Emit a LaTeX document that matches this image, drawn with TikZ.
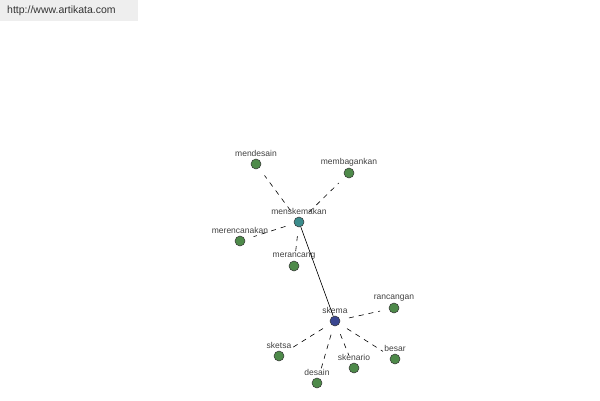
\documentclass[tikz,border=0pt]{standalone}
\usepackage{fontspec}
\setmainfont{Liberation Sans}
\usepackage{xcolor}
\usetikzlibrary{calc}
\definecolor{leafgreen}{HTML}{4E8A4A}
\definecolor{hubteal}{HTML}{3C8C8C}
\definecolor{rootnavy}{HTML}{3A4690}
\definecolor{banner}{HTML}{EEEEEE}

\tikzset{
  word/.style={circle,draw=black!80,line width=0.5pt,minimum size=10pt,inner sep=0pt,fill=leafgreen},
  lbl/.style={font=\fontsize{8.5}{10}\selectfont,text=black!75,inner sep=0.5pt},
  link/.style={dash pattern=on 5pt off 5pt,line width=0.6pt,shorten <=9pt,shorten >=9pt}
}

\begin{document}
\begin{tikzpicture}[x=1pt,y=-1pt]
\useasboundingbox (0,0) rectangle (600,400);
\fill[banner] (0,0) rectangle (138,21);
\node[anchor=west,font=\fontsize{10.5}{12}\selectfont,text=black!80,inner sep=0pt] (site) at (7,11){http://www.artikata.com};
% hub nodes
\node[word,fill=hubteal,label={[lbl,label distance=1pt]above:menskemakan}] (menskemakan) at (299,222){};
\node[word,fill=rootnavy,label={[lbl,label distance=1pt]above:skema}] (skema) at (335,321){};
% leaves of menskemakan
\node[word,label={[lbl,label distance=1pt]above:mendesain}] (mendesain) at (256,164){};
\node[word,label={[lbl,label distance=1pt]above:membagankan}] (membagankan) at (349,173){};
\node[word,label={[lbl,label distance=1pt]above:merencanakan}] (merencanakan) at (240,241){};
\node[word,label={[lbl,label distance=1pt]above:merancang}] (merancang) at (294,266){};
% leaves of skema
\node[word,label={[lbl,label distance=1pt]above:rancangan}] (rancangan) at (394,308){};
\node[word,label={[lbl,label distance=1pt]above:sketsa}] (sketsa) at (279,356){};
\node[word,label={[lbl,label distance=1pt]above:desain}] (desain) at (317,383){};
\node[word,label={[lbl,label distance=1pt]above:skenario}] (skenario) at (354,368){};
\node[word,label={[lbl,label distance=1pt]above:besar}] (besar) at (395,359){};
% links
\draw[line width=0.6pt] (menskemakan)--(skema);
\foreach \w in {mendesain,membagankan,merencanakan,merancang}
  \draw[link] (menskemakan)--(\w);
\foreach \w in {rancangan,sketsa,desain,skenario,besar}
  \draw[link] (skema)--(\w);
\end{tikzpicture}
\end{document}
